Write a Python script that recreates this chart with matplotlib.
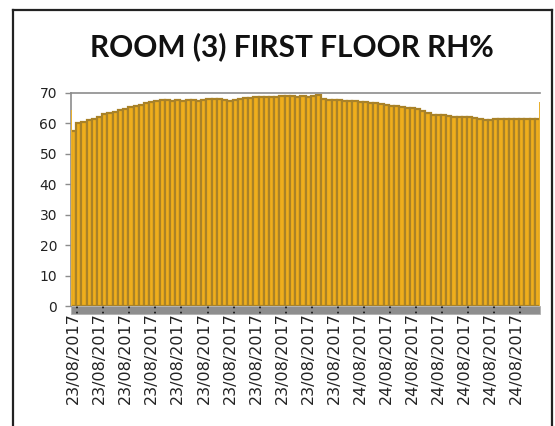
import numpy as np
import matplotlib
matplotlib.use("Agg")
import matplotlib.pyplot as plt
from matplotlib.lines import Line2D
from matplotlib.patches import Rectangle

# relative humidity readings, room 3 first floor (%)
rh = [57.5, 60.3, 60.6, 61.0, 61.6, 62.2, 63.2, 63.5, 63.8, 64.3,
      64.8, 65.3, 65.6, 66.2, 66.8, 67.2, 67.5, 67.6, 67.6, 67.5,
      67.6, 67.5, 67.6, 67.6, 67.5, 67.6, 67.9, 68.0, 67.9, 67.6,
      67.5, 67.6, 68.1, 68.2, 68.3, 68.6, 68.6, 68.7, 68.6, 68.8,
      69.1, 69.0, 68.9, 68.7, 69.0, 68.8, 68.9, 69.3, 68.0, 67.7,
      67.6, 67.7, 67.4, 67.3, 67.3, 67.2, 67.0, 66.7, 66.6, 66.4,
      66.0, 65.8, 65.7, 65.5, 65.2, 65.0, 64.6, 64.0, 63.4, 62.9,
      62.8, 62.7, 62.5, 62.2, 62.0, 62.1, 62.0, 61.8, 61.3, 61.1,
      61.2, 61.3, 61.3, 61.4, 61.4, 61.4, 61.5, 61.4, 61.5, 61.5]
first_reading = 64.4
last_reading = 67.1

dates = ["23/08/2017..."] * 11 + ["24/08/2017..."] * 7
label_step = 5
yticks = [0, 10, 20, 30, 40, 50, 60, 70]

n = len(rh)
x = np.arange(n)

fig = plt.figure(figsize=(5.55, 4.26), dpi=100)
ax = fig.add_axes([71/555, 1-306/426, 469/555, 213/426])

ax.bar(x, rh, width=1.0, color="#EFAE1C", edgecolor="#A98228", linewidth=1.6, zorder=2)
# single spikes at the start and end of the logging
ax.bar([-0.45, n - 0.55], [first_reading, last_reading], width=0.12,
       color="#E8B030", linewidth=0, zorder=3)

ax.set_xlim(-0.5, n - 0.5)
ax.set_ylim(0, 70)

# grey floor under the bars
ax.add_patch(Rectangle((0, -0.037), 1.0, 0.037, transform=ax.transAxes,
                       facecolor="#8E8E8E", edgecolor="#B0B0B0", linewidth=0.6,
                       clip_on=False, zorder=1))

ax.set_xticks(x[::label_step][:len(dates)])
ax.set_xticklabels(dates, rotation=90, fontsize=11.5, color="#222222",
                   family="DejaVu Sans")
ax.tick_params(axis="x", length=0, pad=-7)

ax.set_yticks(yticks)
ax.tick_params(axis="y", length=4, width=1, color="#8C8C8C", labelsize=10,
               labelcolor="#222222", pad=6)

for s in ["right", "bottom"]:
    ax.spines[s].set_visible(False)
ax.spines["left"].set_color("#8C8C8C")
ax.spines["top"].set_color("#8C8C8C")
ax.spines["left"].set_linewidth(1.2)
ax.spines["top"].set_linewidth(1.2)

fig.text(292/555, 1-47/426, "ROOM (3) FIRST FLOOR RH%", ha="center", va="center",
         fontsize=21.5, fontweight="bold", family="Lato", color="#111111")

# chart border
lw = 1.6
fig.add_artist(Line2D([13/555, 13/555], [0, 1-10/426], color="#222222", lw=lw))
fig.add_artist(Line2D([13/555, 552/555], [1-10/426, 1-10/426], color="#222222", lw=lw))
fig.add_artist(Line2D([552/555, 552/555], [0, 1-10/426], color="#222222", lw=lw))

fig.savefig("out.png", dpi=100)
